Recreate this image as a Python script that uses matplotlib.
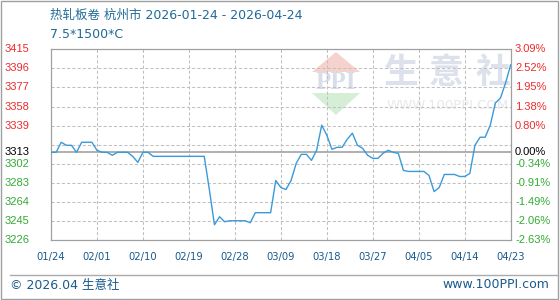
import numpy as np
import matplotlib
matplotlib.use("Agg")
from matplotlib import pyplot as plt
from matplotlib.patches import Rectangle, Polygon
from matplotlib.lines import Line2D

plt.rcParams['font.family'] = ['DejaVu Sans', 'Noto Sans CJK SC']

# data
title = "热轧板卷 杭州市 2026-01-24 - 2026-04-24"
subtitle = "7.5*1500*C"
date_labels = ['01/24', '02/01', '02/10', '02/19', '02/28', '03/09',
               '03/18', '03/27', '04/05', '04/14', '04/23']
base_price = 3313
left_labels = ['3226', '3245', '3264', '3283', '3302', '3313',
               '3339', '3358', '3377', '3396', '3415']
right_labels = ['-2.63%', '-2.06%', '-1.49%', '-0.91%', '-0.34%', '0.00%',
                '0.80%', '1.38%', '1.95%', '2.52%', '3.09%']
prices = [3313, 3313, 3323, 3320, 3320, 3313, 3323, 3323, 3323, 3315,
          3313, 3313, 3310, 3313, 3313, 3313, 3309, 3303, 3313, 3313,
          3309, 3309, 3309, 3309, 3309, 3309, 3309, 3309, 3309, 3309,
          3309, 3276, 3241, 3249, 3244, 3245, 3245, 3245, 3245, 3243,
          3253, 3253, 3253, 3253, 3285, 3278, 3276, 3285, 3302, 3311,
          3311, 3305, 3315, 3340, 3330, 3316, 3318, 3318, 3326, 3332,
          3320, 3317, 3310, 3307, 3307, 3312, 3315, 3313, 3312, 3295,
          3294, 3294, 3294, 3294, 3290, 3274, 3278, 3291, 3291, 3291,
          3289, 3289, 3292, 3320, 3328, 3328, 3340, 3362, 3367, 3382,
          3400]

W, H = 560, 300
fig = plt.figure(figsize=(W / 100, H / 100), dpi=100)
fig.patch.set_facecolor('white')


def px(x, y):
    return x / W, 1 - y / H


# plot area
ax = fig.add_axes([51 / W, 1 - 240 / H, (510.7 - 51) / W, (240 - 49.3) / H])
ax.set_facecolor('none')

lo = base_price * (1 + float(right_labels[0].rstrip('%')) / 100)
hi = base_price * (1 + float(right_labels[-1].rstrip('%')) / 100)
ax.set_ylim(lo, hi)
ax.set_xlim(0, len(prices) - 1)

grid_y = np.linspace(lo, hi, 11)
for gy in grid_y[1:-1]:
    ax.axhline(gy, color='#c0c0c0', lw=0.75, ls=(0, (3, 2)), zorder=1)
xt = list(range(0, len(prices), 9))
for gx in xt[1:-1]:
    ax.axvline(gx, color='#c0c0c0', lw=0.75, ls=(0, (3, 2)), zorder=1)

ax.axhline(base_price, color='#9a9a9a', lw=1.1, zorder=2)
ax.plot(range(len(prices)), prices, color='#3a9ad9', lw=1.0, zorder=3)

for s in ax.spines.values():
    s.set_color('#a0a0a0')
    s.set_linewidth(0.9)
ax.set_xticks([])
ax.set_yticks([])

# y labels on both sides
ytr = ax.get_yaxis_transform()
label_y = list(grid_y)
label_y[5] = base_price
for i, (yv, lt, rt) in enumerate(zip(label_y, left_labels, right_labels)):
    if i < 5:
        c = '#33aa33'
    elif i == 5:
        c = 'black'
    else:
        c = '#ee2b2b'
    ax.text((5 - 51) / 459.7, yv, lt, transform=ytr, ha='left', va='center',
            color=c, fontsize=8, family='Liberation Sans')
    ax.text((515 - 51) / 459.7, yv, rt, transform=ytr, ha='left', va='center',
            color=c, fontsize=8, family='Liberation Sans')

# x labels
xtr = ax.get_xaxis_transform()
for gx, lab in zip(xt, date_labels):
    ax.text(gx, -(257 - 240) / 190.7, lab, transform=xtr, ha='center',
            va='center', color='#1a5a8c', fontsize=7.2)

# titles
fig.text(*px(50, 15), title, ha='left', va='center', color='#1f6a98',
         fontsize=9)
fig.text(*px(50, 35), subtitle, ha='left', va='center', color='#1f6a98',
         fontsize=9)

# watermark
wm = '#dde1ec'
for cx, ch in zip([401.5, 446, 492.5], "生意社"):
    fig.text(*px(cx, 72), ch, ha='center', va='center', color=wm,
             fontsize=25, fontweight='bold', family='Noto Sans CJK SC',
             zorder=-1)
fig.text(*px(448, 106), "WWW.100PPI.COM", ha='center', va='center',
         color='#e8e8e8', fontsize=9.5, zorder=-1)
fig.patches.append(Polygon([px(312, 72), px(360, 72), px(336, 52)],
                           closed=True, facecolor='#f6d2cc', edgecolor='none',
                           transform=fig.transFigure, zorder=-1))
fig.patches.append(Polygon([px(312, 93), px(360, 93), px(336, 115)],
                           closed=True, facecolor='#d6edd6', edgecolor='none',
                           transform=fig.transFigure, zorder=-1))
fig.text(*px(336, 83), "PPI", ha='center', va='center', color='#d8dde9',
         fontsize=18, fontweight='bold', family='Liberation Serif', zorder=-1)

# footer
fig.lines.append(Line2D([10 / W, 558 / W], [1 - 275 / H, 1 - 275 / H],
                        color='#aaaaaa', lw=1.0, transform=fig.transFigure))
fig.text(*px(10.5, 285), "© 2026.04 生意社", ha='left', va='center',
         color='#1a5a8c', fontsize=9)
fig.text(*px(549, 285), "www.100PPI.com", ha='right', va='center',
         color='#1a5a8c', fontsize=9)

# outer border
fig.patches.append(Rectangle((0.5 / W, 1 - 298.5 / H), 557 / W, 298 / H,
                             fill=False, edgecolor='#a0a0a0', lw=1.0,
                             transform=fig.transFigure))

fig.savefig("out.png", dpi=100)
